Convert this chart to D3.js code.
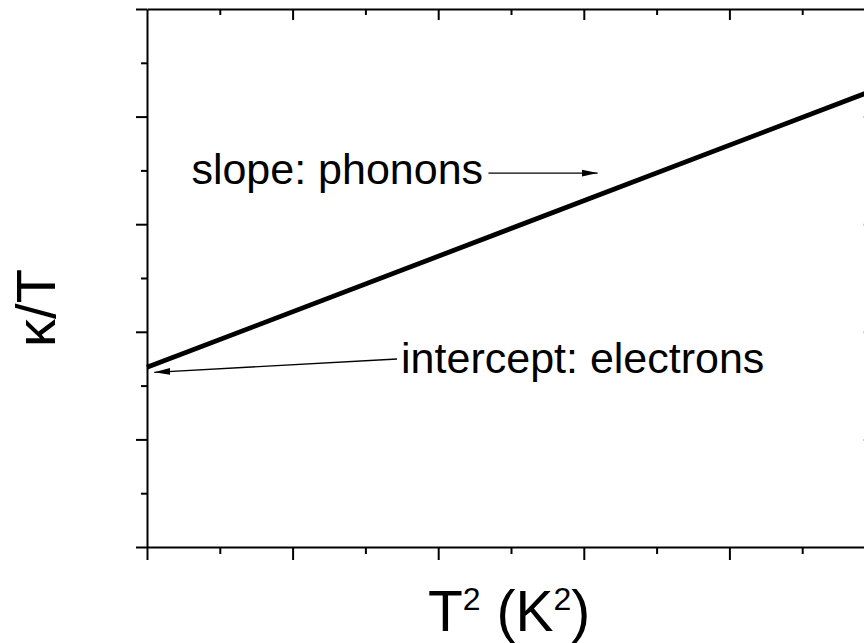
<!DOCTYPE html>
<html>
<head>
<meta charset="utf-8">
<script src="https://cdn.jsdelivr.net/npm/d3@7"></script>
<style>
  html, body { margin: 0; padding: 0; background: #fff; }
  svg { display: block; }
  text { font-family: "Liberation Sans", Arial, sans-serif; fill: #000; }
</style>
</head>
<body>
<svg id="chart" width="864" height="643"></svg>
<script>
// Linear model kappa/T = gamma + beta * T^2 (arbitrary units)
const xValues = [0, 5];
const yValues = [1.67, 4.25];

// Axis ranges and tick positions (no numeric labels shown)
const xDomain = [0, 5];
const yDomain = [0, 5];
const majorTicks = [0, 1, 2, 3, 4, 5];
const minorTicks = [0.5, 1.5, 2.5, 3.5, 4.5];

// Annotations, placed in data units: text anchor and arrow from -> to
const noteTexts = ["slope: phonons", "intercept: electrons"];
const noteTextPos = [[0.305, 3.375], [1.745, 1.615]];
const noteArrowFrom = [[2.345, 3.475], [1.717, 1.747]];
const noteArrowTo = [[3.095, 3.475], [0.05, 1.623]];

const xTitle = "T";
const yTitle = "κ/T";

const svg = d3.select("#chart");
const W = 864, H = 643;
const margin = { left: 147, top: 9 };
const innerW = 728, innerH = 538;

svg.append("rect").attr("width", W).attr("height", H).attr("fill", "#fff");

const x = d3.scaleLinear().domain(xDomain).range([margin.left, margin.left + innerW]);
const y = d3.scaleLinear().domain(yDomain).range([margin.top + innerH, margin.top]);

const defs = svg.append("defs");
defs.append("marker")
  .attr("id", "arrowhead")
  .attr("viewBox", "0 0 16 8")
  .attr("refX", 16).attr("refY", 4)
  .attr("markerWidth", 16).attr("markerHeight", 8)
  .attr("markerUnits", "userSpaceOnUse")
  .attr("orient", "auto")
  .append("path")
  .attr("d", "M0,0.6 L16,4 L0,7.4 Z")
  .attr("fill", "#000");

function styleAxis(g) {
  g.selectAll(".domain").attr("stroke", "#000").attr("stroke-width", 2);
  g.selectAll(".tick line").attr("stroke", "#000").attr("stroke-width", 2);
  g.selectAll(".tick text").remove();
}

// Left axis: outward ticks
const gl = svg.append("g").attr("transform", `translate(${margin.left},0)`);
gl.call(d3.axisLeft(y).tickValues(majorTicks).tickSize(11).tickSizeOuter(0).tickFormat(""));
gl.append("g").call(d3.axisLeft(y).tickValues(minorTicks).tickSize(6).tickSizeOuter(0).tickFormat(""))
  .call(g => g.select(".domain").remove());
styleAxis(gl);

// Bottom axis: outward ticks
const gb = svg.append("g").attr("transform", `translate(0,${margin.top + innerH})`);
gb.call(d3.axisBottom(x).tickValues(majorTicks).tickSize(13).tickSizeOuter(0).tickFormat(""));
gb.append("g").call(d3.axisBottom(x).tickValues(minorTicks).tickSize(7).tickSizeOuter(0).tickFormat(""))
  .call(g => g.select(".domain").remove());
styleAxis(gb);

// Top axis: inward ticks
const gt = svg.append("g").attr("transform", `translate(0,${margin.top})`);
gt.call(d3.axisBottom(x).tickValues(majorTicks.slice(1)).tickSize(11).tickSizeOuter(0).tickFormat(""));
gt.append("g").call(d3.axisBottom(x).tickValues(minorTicks).tickSize(6).tickSizeOuter(0).tickFormat(""))
  .call(g => g.select(".domain").remove());
styleAxis(gt);

// Right axis: inward ticks
const gr = svg.append("g").attr("transform", `translate(${margin.left + innerW},0)`);
gr.call(d3.axisLeft(y).tickValues([1, 2, 3, 4]).tickSize(12).tickSizeOuter(0).tickFormat(""));
styleAxis(gr);
gr.selectAll(".tick line").attr("stroke", "#ccc");

// The line
const pts = xValues.map((v, i) => [v, yValues[i]]);
svg.append("path")
  .datum(pts)
  .attr("fill", "none")
  .attr("stroke", "#000")
  .attr("stroke-width", 4.8)
  .attr("d", d3.line().x(d => x(d[0])).y(d => y(d[1])));

// Annotations
noteTexts.forEach((t, i) => {
  svg.append("text")
    .attr("x", x(noteTextPos[i][0]))
    .attr("y", y(noteTextPos[i][1]))
    .attr("font-size", 43)
    .text(t);
  svg.append("line")
    .attr("x1", x(noteArrowFrom[i][0])).attr("y1", y(noteArrowFrom[i][1]))
    .attr("x2", x(noteArrowTo[i][0])).attr("y2", y(noteArrowTo[i][1]))
    .attr("stroke", "#000").attr("stroke-width", 1.3)
    .attr("marker-end", "url(#arrowhead)");
});

// Axis titles
const xt = svg.append("text")
  .attr("x", 428).attr("y", 631)
  .attr("font-size", 57);
xt.append("tspan").text(xTitle);
xt.append("tspan").attr("font-size", 32).attr("dy", -21).text("2");
xt.append("tspan").attr("dy", 21).text(" (K");
xt.append("tspan").attr("font-size", 32).attr("dy", -21).text("2");
xt.append("tspan").attr("dy", 21).text(")");

svg.append("text")
  .attr("transform", "translate(55,308) rotate(-90)")
  .attr("text-anchor", "middle")
  .attr("font-size", 56)
  .text(yTitle);
</script>
</body>
</html>
